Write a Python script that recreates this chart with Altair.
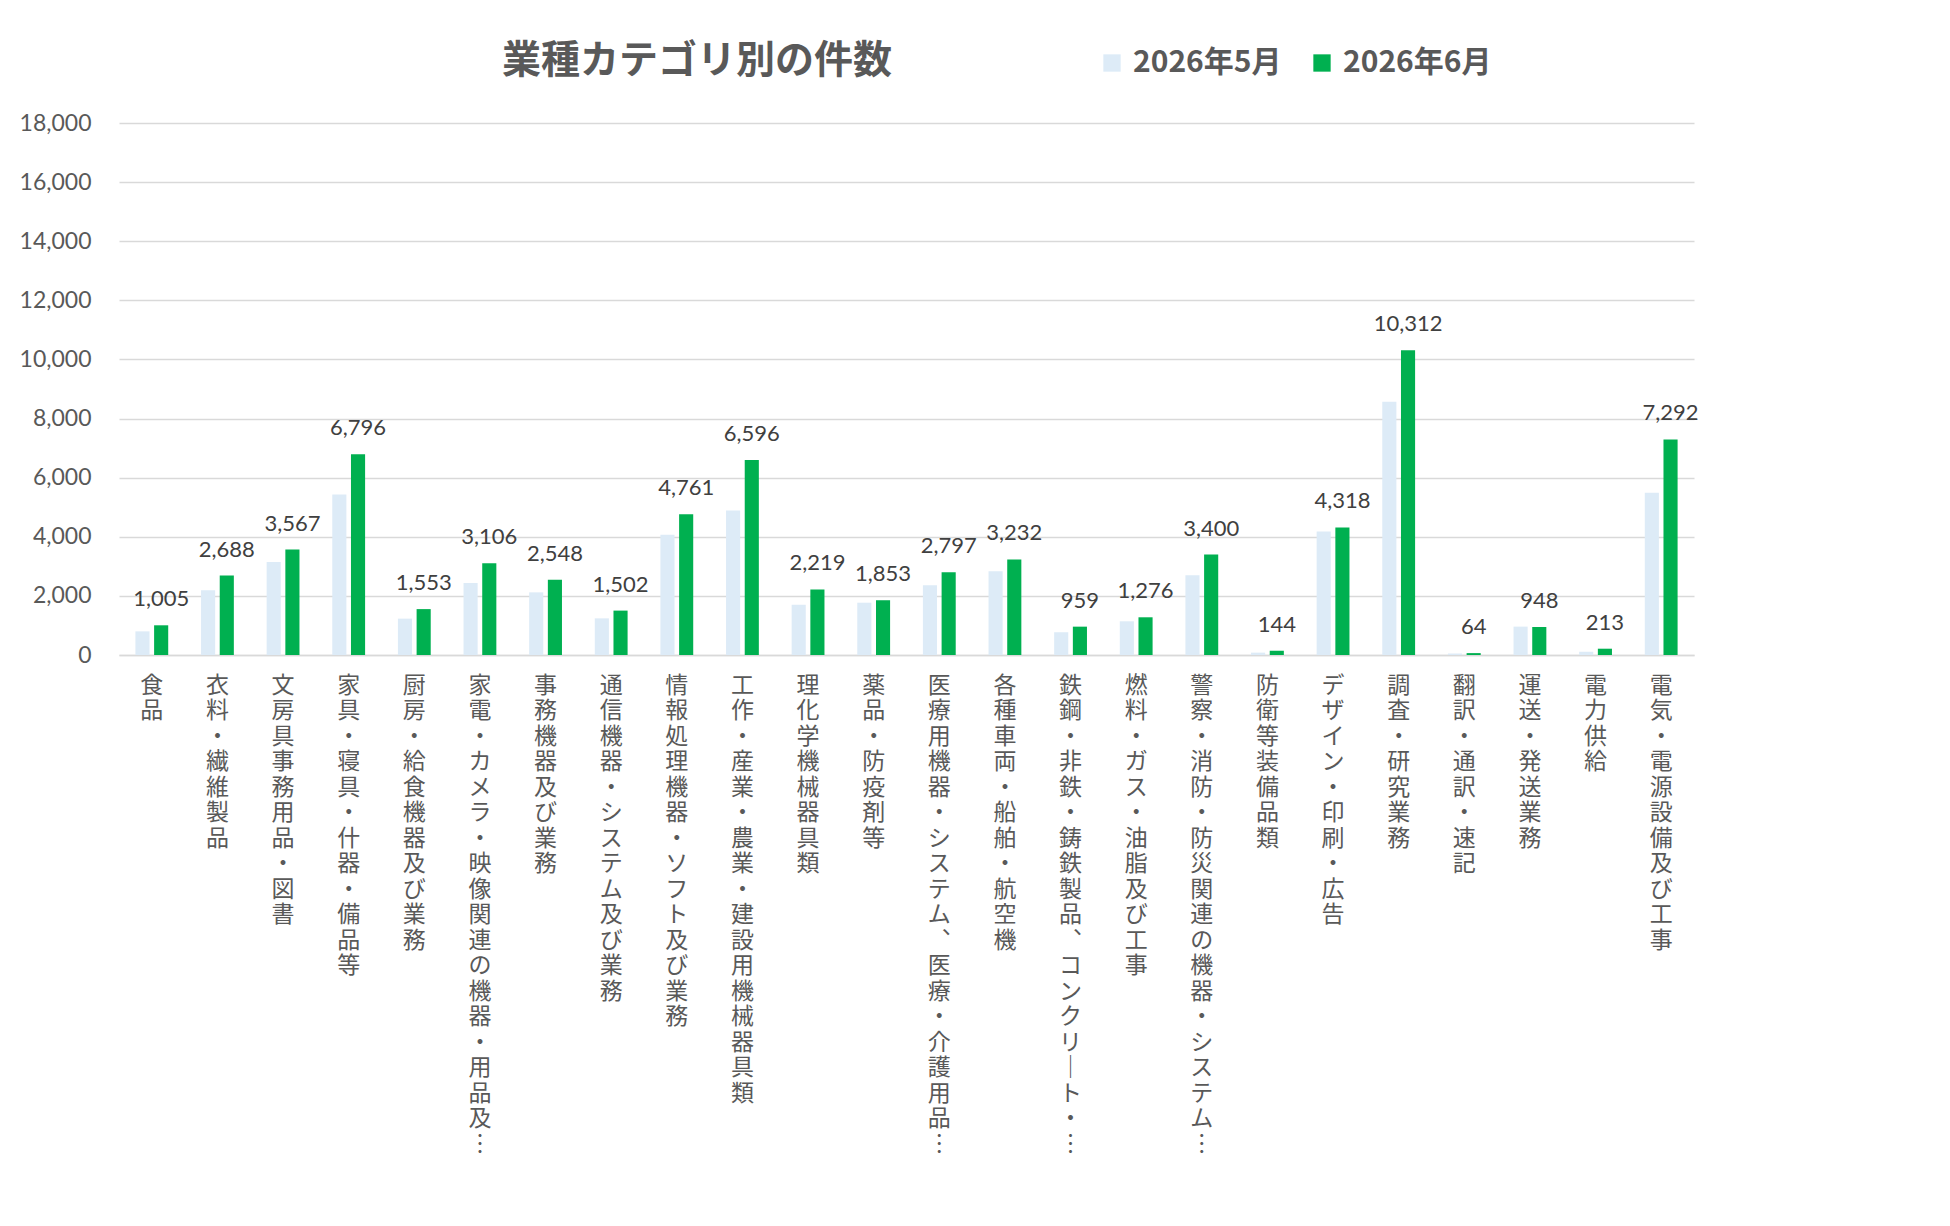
import altair as alt
import pandas as pd

categories = [
    "食品",
    "衣料・繊維製品",
    "文房具事務用品・図書",
    "家具・寝具・什器・備品等",
    "厨房・給食機器及び業務",
    "家電・カメラ・映像関連の機器・用品及…",
    "事務機器及び業務",
    "通信機器・システム及び業務",
    "情報処理機器・ソフト及び業務",
    "工作・産業・農業・建設用機械器具類",
    "理化学機械器具類",
    "薬品・防疫剤等",
    "医療用機器・システム、医療・介護用品…",
    "各種車両・船舶・航空機",
    "鉄鋼・非鉄・鋳鉄製品、コンクリート・…",
    "燃料・ガス・油脂及び工事",
    "警察・消防・防災関連の機器・システム…",
    "防衛等装備品類",
    "デザイン・印刷・広告",
    "調査・研究業務",
    "翻訳・通訳・速記",
    "運送・発送業務",
    "電力供給",
    "電気・電源設備及び工事",
]

may_values = [800, 2190, 3150, 5430, 1230, 2440, 2120, 1240, 4070, 4890, 1700, 1770,
              2360, 2830, 770, 1140, 2700, 80, 4180, 8570, 50, 960, 110, 5490]

june_values = [1005, 2688, 3567, 6796, 1553, 3106, 2548, 1502, 4761, 6596, 2219, 1853,
               2797, 3232, 959, 1276, 3400, 144, 4318, 10312, 64, 948, 213, 7292]

series_names = ["2026年5月", "2026年6月"]
series_colors = ["#DDEBF7", "#00B050"]
y_ticks = [0, 2000, 4000, 6000, 8000, 10000, 12000, 14000, 16000, 18000]

rows = []
for c, m, j in zip(categories, may_values, june_values):
    rows.append({"cat": c, "series": series_names[0], "value": m})
    rows.append({"cat": c, "series": series_names[1], "value": j})
df = pd.DataFrame(rows)
jdf = pd.DataFrame({"cat": categories, "series": series_names[1], "value": june_values})

JP = "Noto Sans CJK JP"
GRAY = "#595959"

label_expr = ("split(replace(replace(replace(datum.label, 'ー', '｜'), '…', '︙'), '、', '︑'), '')")

x_enc = alt.X(
    "cat:N",
    sort=categories,
    scale=alt.Scale(paddingInner=0.5, paddingOuter=0.25),
    axis=alt.Axis(
        title=None,
        labelAngle=0,
        labelExpr=label_expr,
        labelFont=JP,
        labelFontSize=23,
        labelLineHeight=25.5,
        labelColor=GRAY,
        labelBaseline="top",
        labelAlign="center",
        labelPadding=19,
        labelLimit=0,
        labelOverlap=False,
        ticks=False,
        domainColor="#D9D9D9",
        domainWidth=1.5,
    ),
)

y_enc = alt.Y(
    "value:Q",
    scale=alt.Scale(domain=[0, 18000], nice=False),
    axis=alt.Axis(
        title=None,
        values=y_ticks,
        format=",.0f",
        labelFont="Lato",
        labelFontSize=23,
        labelColor=GRAY,
        labelPadding=28,
        ticks=False,
        domain=False,
        gridColor="#D9D9D9",
        gridWidth=1.5,
    ),
)

xoff = alt.XOffset("series:N", sort=series_names,
                   scale=alt.Scale(domain=series_names, paddingInner=0.245, paddingOuter=0))

bars = alt.Chart(df).mark_bar().encode(
    x=x_enc,
    y=y_enc,
    xOffset=xoff,
    color=alt.Color(
        "series:N",
        sort=series_names,
        scale=alt.Scale(domain=series_names, range=series_colors),
        legend=alt.Legend(
            title=None,
            orient="none",
            legendX=978,
            legendY=-75,
            direction="horizontal",
            symbolType="square",
            symbolSize=300,
            symbolStrokeWidth=0,
            labelFont=JP,
            labelFontSize=30,
            labelFontWeight="bold",
            labelColor=GRAY,
            labelOffset=6,
            labelLimit=400,
            columnPadding=25,
        ),
    ),
)

labels = alt.Chart(jdf).mark_text(
    baseline="alphabetic", dy=-19, font="Lato", fontSize=22, color="#404040"
).encode(
    x=alt.X("cat:N", sort=categories),
    y=alt.Y("value:Q"),
    xOffset=alt.XOffset("series:N", sort=series_names),
    text=alt.Text("value:Q", format=","),
)

chart = (
    alt.layer(bars, labels)
    .properties(
        width=1575,
        height=532,
        autosize=alt.AutoSizeParams(type="none"),
        padding={"left": 111, "top": 115, "right": 240, "bottom": 540},
        background="white",
        title=alt.Title(
            "業種カテゴリ別の件数",
            anchor="start",
            frame="group",
            dx=383,
            offset=-33,
            font=JP,
            fontSize=39,
            fontWeight="bold",
            color=GRAY,
        ),
    )
    .configure_view(stroke=None)
)

chart.save("out.html", embed_options={"renderer": "svg", "actions": False})
